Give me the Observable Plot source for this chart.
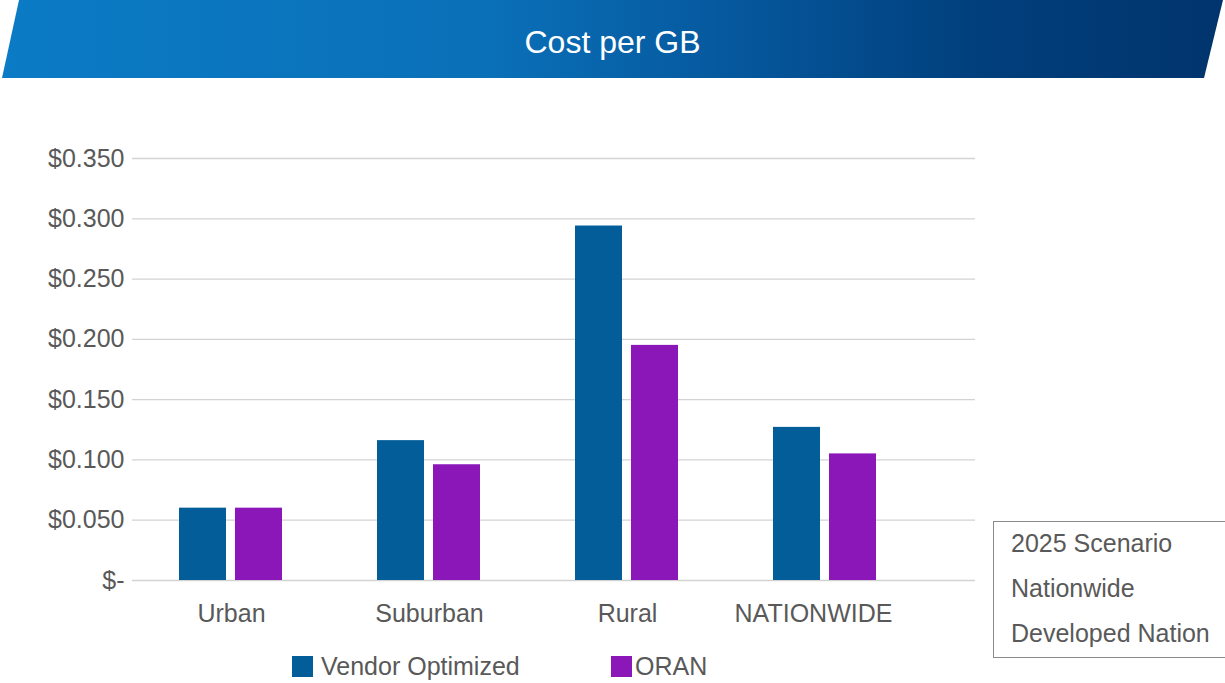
<!DOCTYPE html>
<html>
<head>
<meta charset="utf-8">
<script src="https://cdn.jsdelivr.net/npm/d3@7"></script>
<script src="https://cdn.jsdelivr.net/npm/@observablehq/plot@0.6"></script>
<style>
  html, body { margin: 0; padding: 0; background: #fff; }
  body { width: 1225px; height: 683px; position: relative; overflow: hidden; font-family: "Liberation Sans", Arial, sans-serif; }
  #banner { position: absolute; left: 0; top: 0; width: 1225px; height: 78px;
    clip-path: polygon(19px 0, 1223px 0, 1204px 78px, 2px 78px);
    background: linear-gradient(90deg, #0b7bc5 0%, #0a70b8 40%, #05559a 62%, #013f7c 80%, #01346d 100%); }
  #title { position: absolute; left: 0; top: 0; width: 1225px; height: 84px; line-height: 84px; text-align: center;
    color: #fff; font-size: 32px; }
  #chart { position: absolute; left: 0; top: 80px; }
  .legend { position: absolute; top: 652px; font-size: 25px; color: #595959; display: flex; align-items: center; }
  .legend .sw { width: 21px; height: 21px; margin-right: 8px; }
  #box { position: absolute; left: 993px; top: 521px; width: 240px; height: 137px; border: 1px solid #8a8a8a; box-sizing: border-box; }
  #box div { position: absolute; left: 17px; font-size: 25px; color: #595959; line-height: 25px; }
</style>
</head>
<body>
<div id="banner"></div>
<div id="title">Cost per GB</div>
<div id="chart"></div>
<div id="legend"></div>
<div id="box"></div>
<script>
const categories = ["Urban", "Suburban", "Rural", "NATIONWIDE"];
const vendorOptimized = [0.060, 0.116, 0.294, 0.127];
const oran = [0.060, 0.096, 0.195, 0.105];
const seriesNames = ["Vendor Optimized", "ORAN"];
const seriesColors = ["#025d98", "#8c17b9"];
const yTicks = [0, 0.05, 0.10, 0.15, 0.20, 0.25, 0.30, 0.35];
const scenarioLines = ["2025 Scenario", "Nationwide", "Developed Nation"];

const vendorData = categories.map((c, i) => ({category: c, value: vendorOptimized[i]}));
const oranData = categories.map((c, i) => ({category: c, value: oran[i]}));

const fmt = d => d === 0 ? "$-" : "$" + d.toFixed(3);

const chart = Plot.plot({
  width: 1225,
  height: 603,
  marginLeft: 132,
  marginRight: 250,
  marginTop: 78,
  marginBottom: 103,
  style: { fontFamily: "'Liberation Sans', Arial, sans-serif", fontSize: "25px", color: "#595959", background: "transparent" },
  x: { type: "band", domain: categories, range: [132, 924], padding: 0, label: null },
  y: { domain: [0, 0.35], range: [500, 78], label: null },
  marks: [
    Plot.ruleY(yTicks, { stroke: "#d3d3d3", strokeWidth: 1.3 }),
    Plot.axisY({ ticks: yTicks, tickFormat: fmt, tickSize: 0, tickPadding: 8, label: null, fontSize: 25 }),
    Plot.axisX({ ticks: categories.slice(0, 3), tickSize: 0, tickPadding: 24, label: null, fontSize: 25 }),
    Plot.axisX({ ticks: categories.slice(3), tickSize: 0, tickPadding: 24, label: null, fontSize: 25, dx: -12 }),
    Plot.barY(vendorData, { x: "category", y: "value", fill: seriesColors[0], insetLeft: 47, insetRight: 104 }),
    Plot.barY(oranData, { x: "category", y: "value", fill: seriesColors[1], insetLeft: 103, insetRight: 48 })
  ]
});
document.getElementById("chart").appendChild(chart);

// Legend
const legendPos = [292, 611];
const legendGap = [8, 3];
seriesNames.forEach((name, i) => {
  const item = document.createElement("div");
  item.className = "legend";
  item.style.left = legendPos[i] + "px";
  const sw = document.createElement("div");
  sw.className = "sw";
  sw.style.background = seriesColors[i];
  sw.style.marginRight = legendGap[i] + "px";
  const t = document.createElement("span");
  t.textContent = name;
  item.appendChild(sw);
  item.appendChild(t);
  document.body.appendChild(item);
});

// Scenario box
const box = document.getElementById("box");
scenarioLines.forEach((s, i) => {
  const d = document.createElement("div");
  d.textContent = s;
  d.style.top = (9 + i * 45) + "px";
  box.appendChild(d);
});
</script>
</body>
</html>
